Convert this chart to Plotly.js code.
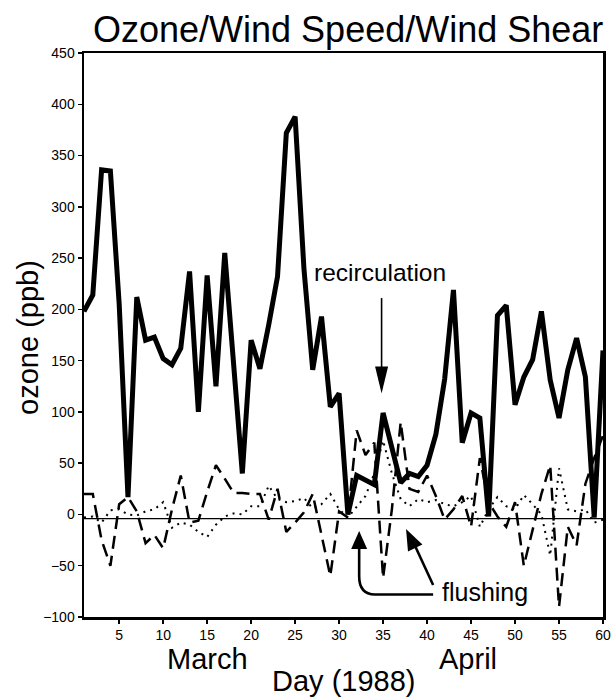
<!DOCTYPE html>
<html><head><meta charset="utf-8">
<script src="https://cdn.plot.ly/plotly-3.0.1.min.js"></script>
<style>html,body{margin:0;padding:0;background:#fff}</style>
</head><body><div id="chart" style="width:611px;height:697px"></div>
<script>
// ---- data ----
const days = [1,2,3,4,5,6,7,8,9,10,11,12,13,14,15,16,17,18,19,20,21,22,23,24,25,26,27,28,29,30,
              31,32,33,34,35,36,37,38,39,40,41,42,43,44,45,46,47,48,49,50,51,52,53,54,55,56,57,58,59,60];
const ozone = [198,214,336,335,205,17,212,170,173,152,146,162,237,100,233,125,255,145,40,170,
               142,185,232,372,388,240,141,193,105,118,0,38,33,29,99,63,31,40,37,48,
               78,132,219,70,99,94,-2,194,204,107,134,151,198,131,94,141,172,134,-3,160];
const windShear = [20,20,-25,-50,10,17,3,-28,-20,-33,5,38,-8,-6,22,48,35,21,21,20,
                   20,-5,25,-17,-8,2,20,-20,-60,3,-3,82,58,70,-62,5,90,25,22,38,
                   18,-5,5,18,-12,55,12,-2,-12,12,-50,-15,20,48,-90,-12,-30,30,55,77];
const windSpeed = [-3,-2,-8,4,5,0,-1,3,5,12,-13,-8,-10,-17,-22,-10,-2,1,0,8,
                   8,28,15,12,13,16,6,10,20,5,-3,8,18,40,72,40,15,8,15,12,
                   14,10,8,12,18,-12,5,17,8,5,19,10,0,-40,45,5,3,5,-8,-5];
const xTicks = [5,10,15,20,25,30,35,40,45,50,55,60];
const yTicks = [-100,-50,0,50,100,150,200,250,300,350,400,450];
const baseline = -4;

// ---- layout geometry ----
const W = 611, H = 697, M = {l:84, r:8, t:53, b:80};
const xr = [1,60], yr = [-100,450];
const xs = (W - M.l - M.r) / (xr[1]-xr[0]);
const ys = (H - M.t - M.b) / (yr[1]-yr[0]);
const FONT = 'Liberation Sans, Arial, Helvetica, sans-serif';

function head(tx, ty, fx, fy, L, hw) {
  let px = (tx - fx) * xs, py = -(ty - fy) * ys;
  const n = Math.hypot(px, py); px /= n; py /= n;
  const bx = -L*px, by = -L*py;
  const c1 = [bx - hw*py, by + hw*px], c2 = [bx + hw*py, by - hw*px];
  const d = p => [tx + p[0]/xs, ty - p[1]/ys];
  const a = d(c1), b = d(c2);
  return {type:'path', xref:'x', yref:'y', path:`M ${tx},${ty} L ${a[0]},${a[1]} L ${b[0]},${b[1]} Z`,
          fillcolor:'#000', line:{width:0}};
}
function shaft(x0,y0,x1,y1,w){
  return {type:'line', xref:'x', yref:'y', x0, y0, x1, y1, line:{color:'#000', width:w}};
}

const shapes = [
  {type:'line', xref:'paper', yref:'y', x0:0, x1:1, y0:baseline, y1:baseline, line:{color:'#000', width:1.3}, layer:'below'},
  shaft(34.83, 211, 34.83, 140, 1.6), head(34.83, 118, 34.83, 211, 27, 6.5),
  shaft(40.69, -68.8, 38.6, -30, 2.6), head(37.61, -14.2, 40.69, -68.8, 21, 8),
  {type:'path', xref:'x', yref:'y', path:'M 40.69,-78 L 34.07,-78 Q 32.28,-78 32.28,-60 L 32.28,-30', line:{color:'#000', width:2.6}},
  head(32.28, -16.1, 32.28, -60, 18, 8)
];

const annotations = [
  {text:'ozone (ppb)', xref:'paper', yref:'paper', x:-0.108, y:0.4965, textangle:-90, showarrow:false,
   xanchor:'center', yanchor:'middle', font:{family:FONT, size:29, color:'#000'}},
  {text:'March', xref:'x', yref:'paper', x:15.05, y:-0.074, showarrow:false, xanchor:'center', yanchor:'middle',
   font:{family:FONT, size:29, color:'#000'}},
  {text:'April', xref:'x', yref:'paper', x:44.6, y:-0.074, showarrow:false, xanchor:'center', yanchor:'middle',
   font:{family:FONT, size:29, color:'#000'}},
  {text:'Day (1988)', xref:'x', yref:'paper', x:30.5, y:-0.1135, showarrow:false, xanchor:'center', yanchor:'middle',
   font:{family:FONT, size:29, color:'#000'}},
  {text:'recirculation', xref:'x', yref:'y', x:34.64, y:236.4, showarrow:false, xanchor:'center', yanchor:'middle',
   font:{family:FONT, size:24.5, color:'#000'}},
  {text:'flushing', xref:'x', yref:'y', x:46.57, y:-75.6, showarrow:false, xanchor:'center', yanchor:'middle',
   font:{family:FONT, size:25, color:'#000'}}
];

const traces = [
  {x:days, y:windSpeed, type:'scatter', mode:'lines', name:'wind speed',
   line:{color:'#000', width:2, dash:'2px,5px'}, hoverinfo:'skip'},
  {x:days, y:windShear, type:'scatter', mode:'lines', name:'wind shear',
   line:{color:'#000', width:2.5, dash:'13px,7px'}, hoverinfo:'skip'},
  {x:days, y:ozone, type:'scatter', mode:'lines', name:'ozone',
   line:{color:'#000', width:5}, hoverinfo:'skip'}
];

const axisCommon = {showgrid:false, zeroline:false, showline:true, linecolor:'#000', linewidth:2.5, mirror:true,
  ticks:'outside', ticklen:4, tickwidth:1.5, tickcolor:'#000', tickfont:{family:FONT, size:14, color:'#000'}};

const layout = {
  width:W, height:H, margin:M, showlegend:false,
  paper_bgcolor:'#fff', plot_bgcolor:'#fff',
  title:{text:'Ozone/Wind Speed/Wind Shear', font:{family:FONT, size:36, color:'#000'},
         x:0.509, xref:'paper', xanchor:'center', y:0.958, yref:'container', yanchor:'middle'},
  xaxis:Object.assign({range:xr, tickmode:'array', tickvals:xTicks}, axisCommon),
  yaxis:Object.assign({range:yr, tickmode:'array', tickvals:yTicks}, axisCommon),
  shapes, annotations
};

Plotly.newPlot('chart', traces, layout, {staticPlot:true, displayModeBar:false});
</script></body></html>
